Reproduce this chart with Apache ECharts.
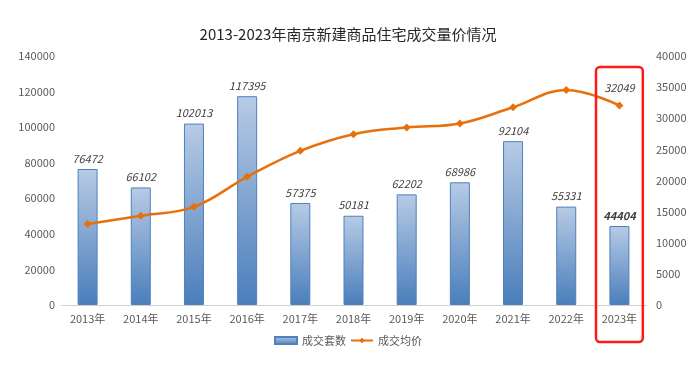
<!DOCTYPE html>
<html><head><meta charset="utf-8">
<script src="https://cdn.jsdelivr.net/npm/echarts@6/dist/echarts.min.js"></script>
<style>html,body{margin:0;padding:0;background:#fff}#c{width:696px;height:373px}</style>
</head><body><div id="c"></div>
<script>
var categories = ['2013年','2014年','2015年','2016年','2017年','2018年','2019年','2020年','2021年','2022年','2023年'];
var volume = [76472,66102,102013,117395,57375,50181,62202,68986,92104,55331,44404];
var avgPrice = [13000,14330,15770,20590,24760,27440,28510,29150,31770,34540,32049];
var leftTicks = [0,140000,20000];
var rightTicks = [0,40000,5000];

var chart = echarts.init(document.getElementById('c'));
var font = '"Microsoft YaHei","Noto Sans CJK SC",sans-serif';
var barColor = new echarts.graphic.LinearGradient(0,0,0,1,[{offset:0,color:'#b7cbe5'},{offset:1,color:'#4a7ebb'}]);
var last = volume.length - 1;
var plain = function(v){return String(v);};
var option = {
  animation:false,
  textStyle:{fontFamily:font},
  title:{text:'2013-2023年南京新建商品住宅成交量价情况',left:'center',top:22,
    textStyle:{fontSize:15,fontWeight:'normal',color:'#262626',fontFamily:font}},
  legend:{bottom:22,left:'center',itemGap:4,itemWidth:22,itemHeight:7,
    textStyle:{fontSize:11,color:'#595959'},
    data:[{name:'成交套数',icon:'rect'},{name:'成交均价'}]},
  grid:{left:61,right:50,top:56,bottom:68},
  xAxis:{type:'category',data:categories,
    axisLine:{lineStyle:{color:'#d0d0d0'}},axisTick:{show:false},
    axisLabel:{color:'#595959',fontSize:11,margin:8}},
  yAxis:[
    {type:'value',min:leftTicks[0],max:leftTicks[1],interval:leftTicks[2],
     splitLine:{show:false},axisLine:{show:false},axisTick:{show:false},
     axisLabel:{color:'#595959',fontSize:11,margin:6,formatter:plain}},
    {type:'value',min:rightTicks[0],max:rightTicks[1],interval:rightTicks[2],
     splitLine:{show:false},axisLine:{show:false},axisTick:{show:false},
     axisLabel:{color:'#595959',fontSize:11,margin:10,formatter:plain}}
  ],
  series:[
    {name:'成交套数',type:'bar',barWidth:20,yAxisIndex:0,
     itemStyle:{color:barColor,borderColor:'#4f81bd',borderWidth:1},
     label:{show:true,position:'top',fontStyle:'italic',fontSize:11,color:'#404040',distance:5},
     data:volume.map(function(v,i){
       return i===last ? {value:v,label:{fontWeight:'bold'}} : v;})},
    {name:'成交均价',type:'line',yAxisIndex:1,smooth:0.4,
     symbol:'diamond',symbolSize:8,
     lineStyle:{color:'#e8700c',width:2.5},itemStyle:{color:'#e8700c'},
     data:avgPrice.map(function(v,i){
       return i===last ? {value:v,label:{show:true,position:'top',distance:8,fontStyle:'italic',fontSize:11,color:'#404040'}} : v;})}
  ]
};
chart.setOption(option);
var cx = chart.convertToPixel({xAxisIndex:0}, categories[last]);
var step = chart.convertToPixel({xAxisIndex:0}, categories[last]) - chart.convertToPixel({xAxisIndex:0}, categories[last-1]);
chart.setOption({graphic:[{type:'rect',shape:{x:cx-step*0.44,y:67,width:step*0.88,height:275,r:4},
  style:{fill:'none',stroke:'#ff1a1a',lineWidth:2.5},z:100}]});
</script></body></html>
